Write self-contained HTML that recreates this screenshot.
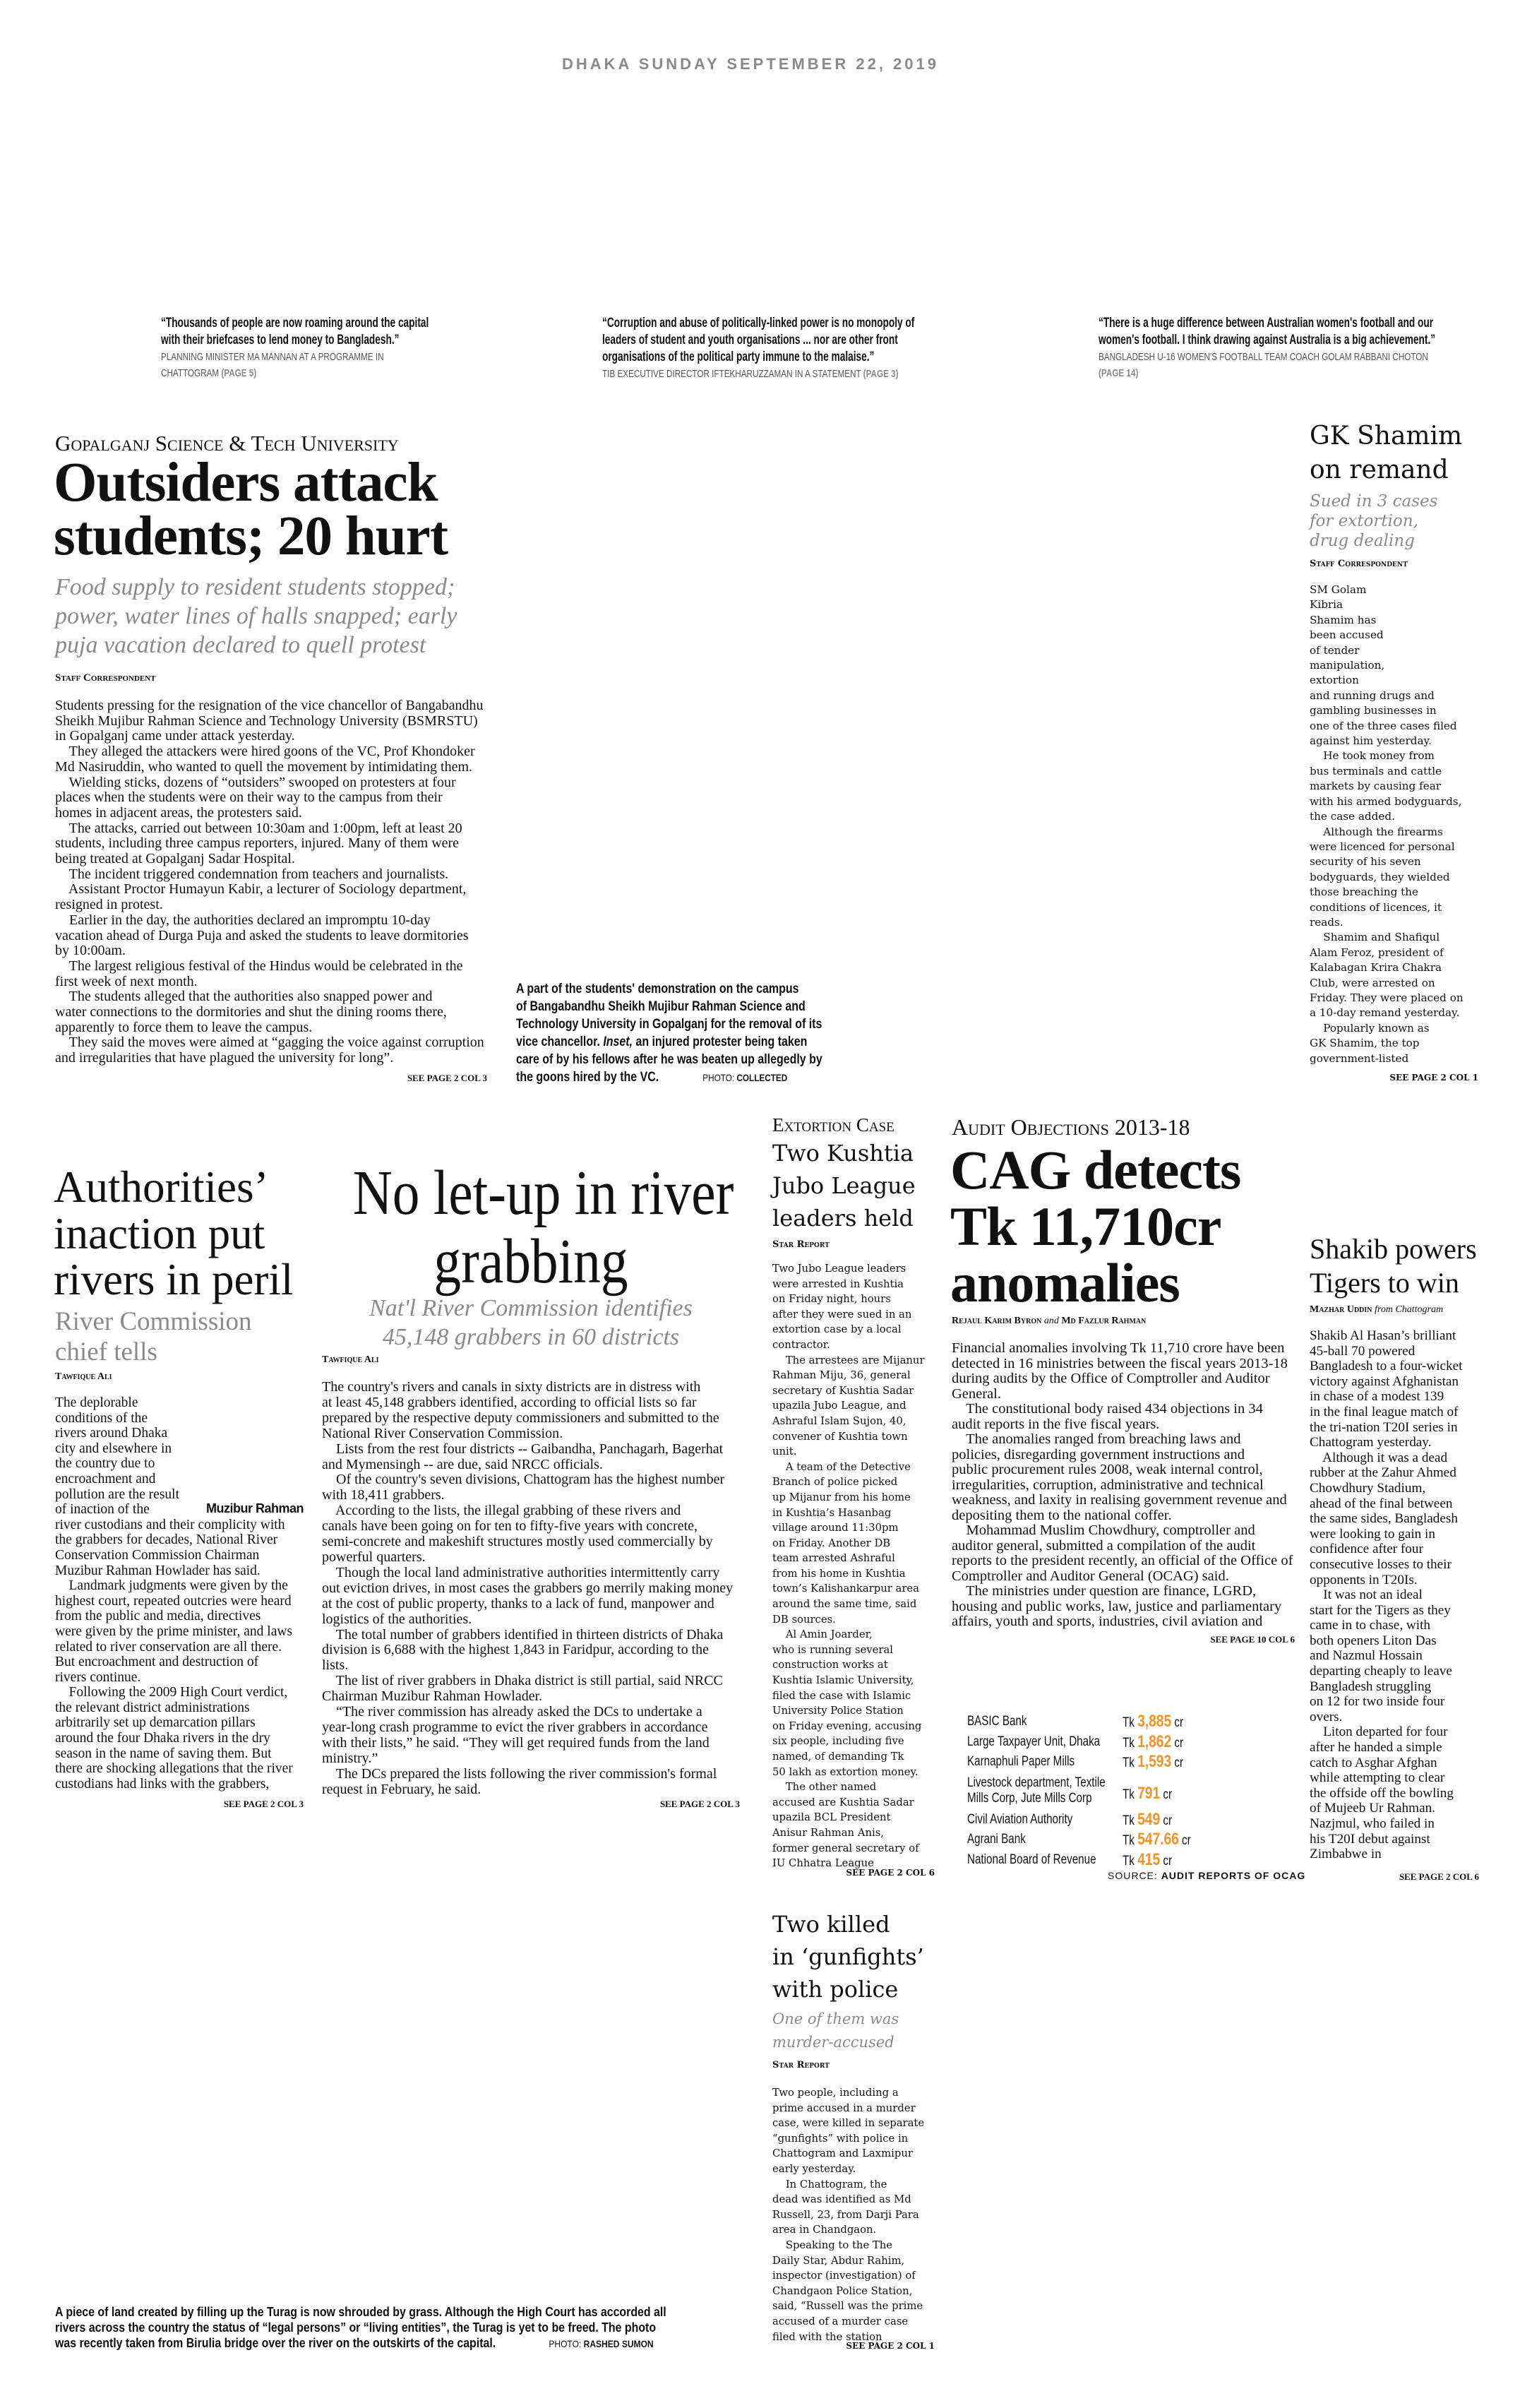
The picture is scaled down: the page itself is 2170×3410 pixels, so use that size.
<!DOCTYPE html>
<html><head><meta charset="utf-8"><style>
html,body{margin:0;padding:0;background:#fff}
body{width:2170px;height:3410px;position:relative;overflow:hidden;color:#111;font-family:"Liberation Serif",serif}
.p{position:absolute;white-space:pre;margin:0}
.c{display:inline-block;transform-origin:0 0;white-space:pre}
.sans{font-family:"Liberation Sans",sans-serif}
.dj{font-family:"DejaVu Serif",serif}
.gray{color:#8a8a8a}
.sc{font-variant:small-caps}
.bl{font-variant:small-caps;font-weight:bold;font-size:15px;line-height:18px}
.body{font-size:20px;line-height:21.7px}
.see{font-size:13px;font-weight:bold;text-align:right;width:300px}
.q{font-family:"Liberation Sans",sans-serif;font-weight:bold;font-size:19px;line-height:24px;transform:scaleX(.72);transform-origin:0 0}
.qa{font-family:"Liberation Sans",sans-serif;font-size:15px;line-height:23px;color:#555;transform:scaleX(.78);transform-origin:0 0}
.or{color:#f39325;font-weight:bold;font-size:24px}
.tr{font-family:"Liberation Sans",sans-serif;font-size:19px;transform:scaleX(.8);transform-origin:0 0}
</style></head><body>

<div class="p sans" style="left:796px;top:78px;font-size:22px;font-weight:bold;letter-spacing:4px;color:#8a8a8a">DHAKA SUNDAY SEPTEMBER 22, 2019</div>

<!-- quotes -->
<div class="p" style="left:228px;top:446px"><div class="q">“Thousands of people are now roaming around the capital
with their briefcases to lend money to Bangladesh.”</div><div class="qa" style="margin-top:-48px;position:relative;top:48px">PLANNING MINISTER MA MANNAN AT A PROGRAMME IN
CHATTOGRAM <b style="color:#888">(PAGE 5)</b></div></div>
<div class="p" style="left:853px;top:446px"><div class="q">“Corruption and abuse of politically-linked power is no monopoly of
leaders of student and youth organisations ... nor are other front
organisations of the political party immune to the malaise.”</div><div class="qa" style="position:relative;top:-72px;margin-top:72px">TIB EXECUTIVE DIRECTOR IFTEKHARUZZAMAN IN A STATEMENT <b style="color:#888">(PAGE 3)</b></div></div>
<div class="p" style="left:1556px;top:446px"><div class="q">“There is a huge difference between Australian women's football and our
women's football. I think drawing against Australia is a big achievement.”</div><div class="qa" style="position:relative;top:-48px;margin-top:48px">BANGLADESH U-16 WOMEN'S FOOTBALL TEAM COACH GOLAM RABBANI CHOTON
<b style="color:#888">(PAGE 14)</b></div></div>

<!-- main story -->
<div class="p sc" style="left:78px;top:610px;font-size:31px;line-height:36px">Gopalganj Science &amp; Tech University</div>
<div class="p" style="left:76px;top:646px;font-size:79px;line-height:76px;font-weight:bold;letter-spacing:-1px">Outsiders attack
students; 20 hurt</div>
<div class="p gray" style="left:78px;top:811px;font-size:34px;line-height:41px;font-style:italic">Food supply to resident students stopped;
power, water lines of halls snapped; early
puja vacation declared to quell protest</div>
<div class="p bl" style="left:78px;top:951px">Staff Correspondent</div>
<div class="p body" style="left:78px;top:989px">Students pressing for the resignation of the vice chancellor of Bangabandhu
Sheikh Mujibur Rahman Science and Technology University (BSMRSTU)
in Gopalganj came under attack yesterday.
    They alleged the attackers were hired goons of the VC, Prof Khondoker
Md Nasiruddin, who wanted to quell the movement by intimidating them.
    Wielding sticks, dozens of “outsiders” swooped on protesters at four
places when the students were on their way to the campus from their
homes in adjacent areas, the protesters said.
    The attacks, carried out between 10:30am and 1:00pm, left at least 20
students, including three campus reporters, injured. Many of them were
being treated at Gopalganj Sadar Hospital.
    The incident triggered condemnation from teachers and journalists.
    Assistant Proctor Humayun Kabir, a lecturer of Sociology department,
resigned in protest.
    Earlier in the day, the authorities declared an impromptu 10-day
vacation ahead of Durga Puja and asked the students to leave dormitories
by 10:00am.
    The largest religious festival of the Hindus would be celebrated in the
first week of next month.
    The students alleged that the authorities also snapped power and
water connections to the dormitories and shut the dining rooms there,
apparently to force them to leave the campus.
    They said the moves were aimed at “gagging the voice against corruption
and irregularities that have plagued the university for long”.</div>
<div class="p see" style="left:390px;top:1519px">SEE PAGE 2 COL 3</div>

<div class="p sans" style="left:731px;top:1388px;font-size:19px;line-height:25px;font-weight:bold"><span class="c" style="transform:scaleX(.84)">A part of the students' demonstration on the campus
of Bangabandhu Sheikh Mujibur Rahman Science and
Technology University in Gopalganj for the removal of its
vice chancellor. <i>Inset,</i> an injured protester being taken
care of by his fellows after he was beaten up allegedly by
the goons hired by the VC.              <span style="font-size:14px;font-weight:normal">PHOTO: </span><span style="font-size:14px">COLLECTED</span></span></div>

<!-- GK Shamim -->
<div class="p dj" style="left:1855px;top:594px;font-size:36px;line-height:48px">GK Shamim
on remand</div>
<div class="p dj gray" style="left:1855px;top:696px;font-size:23px;line-height:28px;font-style:italic">Sued in 3 cases
for extortion,
drug dealing</div>
<div class="p dj sc" style="left:1855px;top:791px;font-size:13px;font-weight:bold">Staff Correspondent</div>
<div class="p dj" style="left:1855px;top:825px;font-size:15.2px;line-height:21.4px">SM Golam
Kibria
Shamim has
been accused
of tender
manipulation,
extortion
and running drugs and
gambling businesses in
one of the three cases filed
against him yesterday.
    He took money from
bus terminals and cattle
markets by causing fear
with his armed bodyguards,
the case added.
    Although the firearms
were licenced for personal
security of his seven
bodyguards, they wielded
those breaching the
conditions of licences, it
reads.
    Shamim and Shafiqul
Alam Feroz, president of
Kalabagan Krira Chakra
Club, were arrested on
Friday. They were placed on
a 10-day remand yesterday.
    Popularly known as
GK Shamim, the top
government-listed</div>
<div class="p see dj" style="left:1794px;top:1519px;font-size:12px">SEE PAGE 2 COL 1</div>

<!-- Authorities -->
<div class="p" style="left:76px;top:1649px;font-size:63px;line-height:65.5px">Authorities’
inaction put
rivers in peril</div>
<div class="p gray" style="left:78px;top:1850px;font-size:37px;line-height:43px">River Commission
chief tells</div>
<div class="p bl" style="left:78px;top:1941px;font-size:14px">Tawfique Ali</div>
<div class="p body" style="left:78px;top:1976px;font-size:19.5px;line-height:21.6px">The deplorable
conditions of the
rivers around Dhaka
city and elsewhere in
the country due to
encroachment and
pollution are the result
of inaction of the
river custodians and their complicity with
the grabbers for decades, National River
Conservation Commission Chairman
Muzibur Rahman Howlader has said.
    Landmark judgments were given by the
highest court, repeated outcries were heard
from the public and media, directives
were given by the prime minister, and laws
related to river conservation are all there.
But encroachment and destruction of
rivers continue.
    Following the 2009 High Court verdict,
the relevant district administrations
arbitrarily set up demarcation pillars
around the four Dhaka rivers in the dry
season in the name of saving them. But
there are shocking allegations that the river
custodians had links with the grabbers,</div>
<div class="p sans" style="left:282px;top:2126px;font-size:18px;font-weight:bold;width:148px;text-align:right;letter-spacing:-.5px">Muzibur Rahman</div>
<div class="p see" style="left:130px;top:2547px">SEE PAGE 2 COL 3</div>

<!-- No let-up -->
<div class="p" style="left:456px;top:1641px;width:592px;text-align:center;font-size:90px;line-height:97px"><span class="c" style="transform:scaleX(.86);transform-origin:50% 0">No let-up in river</span>
<span class="c" style="transform:scaleX(.86);transform-origin:50% 0">grabbing</span></div>
<div class="p gray" style="left:456px;top:1832px;width:592px;text-align:center;font-size:34px;line-height:41px;font-style:italic">Nat'l River Commission identifies
45,148 grabbers in 60 districts</div>
<div class="p bl" style="left:456px;top:1917px;font-size:14px">Tawfique Ali</div>
<div class="p body" style="left:456px;top:1954px;font-size:20px;line-height:21.9px">The country's rivers and canals in sixty districts are in distress with
at least 45,148 grabbers identified, according to official lists so far
prepared by the respective deputy commissioners and submitted to the
National River Conservation Commission.
    Lists from the rest four districts -- Gaibandha, Panchagarh, Bagerhat
and Mymensingh -- are due, said NRCC officials.
    Of the country's seven divisions, Chattogram has the highest number
with 18,411 grabbers.
    According to the lists, the illegal grabbing of these rivers and
canals have been going on for ten to fifty-five years with concrete,
semi-concrete and makeshift structures mostly used commercially by
powerful quarters.
    Though the local land administrative authorities intermittently carry
out eviction drives, in most cases the grabbers go merrily making money
at the cost of public property, thanks to a lack of fund, manpower and
logistics of the authorities.
    The total number of grabbers identified in thirteen districts of Dhaka
division is 6,688 with the highest 1,843 in Faridpur, according to the
lists.
    The list of river grabbers in Dhaka district is still partial, said NRCC
Chairman Muzibur Rahman Howlader.
    “The river commission has already asked the DCs to undertake a
year-long crash programme to evict the river grabbers in accordance
with their lists,” he said. “They will get required funds from the land
ministry.”
    The DCs prepared the lists following the river commission's formal
request in February, he said.</div>
<div class="p see" style="left:748px;top:2547px">SEE PAGE 2 COL 3</div>

<!-- Kushtia -->
<div class="p sc" style="left:1094px;top:1578px;font-size:27px;line-height:30px">Extortion Case</div>
<div class="p dj" style="left:1094px;top:1610px;font-size:32px;line-height:46px">Two Kushtia
Jubo League
leaders held</div>
<div class="p dj sc" style="left:1094px;top:1755px;font-size:13px;font-weight:bold">Star Report</div>
<div class="p dj" style="left:1094px;top:1786px;font-size:14.8px;line-height:21.6px">Two Jubo League leaders
were arrested in Kushtia
on Friday night, hours
after they were sued in an
extortion case by a local
contractor.
    The arrestees are Mijanur
Rahman Miju, 36, general
secretary of Kushtia Sadar
upazila Jubo League, and
Ashraful Islam Sujon, 40,
convener of Kushtia town
unit.
    A team of the Detective
Branch of police picked
up Mijanur from his home
in Kushtia’s Hasanbag
village around 11:30pm
on Friday. Another DB
team arrested Ashraful
from his home in Kushtia
town’s Kalishankarpur area
around the same time, said
DB sources.
    Al Amin Joarder,
who is running several
construction works at
Kushtia Islamic University,
filed the case with Islamic
University Police Station
on Friday evening, accusing
six people, including five
named, of demanding Tk
50 lakh as extortion money.
    The other named
accused are Kushtia Sadar
upazila BCL President
Anisur Rahman Anis,
former general secretary of
IU Chhatra League</div>
<div class="p see dj" style="left:1024px;top:2645px;font-size:12px">SEE PAGE 2 COL 6</div>

<!-- Two killed -->
<div class="p dj" style="left:1094px;top:2702px;font-size:32px;line-height:46px">Two killed
in ‘gunfights’
with police</div>
<div class="p dj gray" style="left:1094px;top:2843px;font-size:21px;line-height:33px;font-style:italic">One of them was
murder-accused</div>
<div class="p dj sc" style="left:1094px;top:2917px;font-size:13px;font-weight:bold">Star Report</div>
<div class="p dj" style="left:1094px;top:2953px;font-size:14.8px;line-height:21.6px">Two people, including a
prime accused in a murder
case, were killed in separate
“gunfights” with police in
Chattogram and Laxmipur
early yesterday.
    In Chattogram, the
dead was identified as Md
Russell, 23, from Darji Para
area in Chandgaon.
    Speaking to the The
Daily Star, Abdur Rahim,
inspector (investigation) of
Chandgaon Police Station,
said, “Russell was the prime
accused of a murder case
filed with the station</div>
<div class="p see dj" style="left:1024px;top:3315px;font-size:12px">SEE PAGE 2 COL 1</div>

<!-- CAG -->
<div class="p sc" style="left:1348px;top:1578px;font-size:32px;line-height:36px">Audit Objections 2013-18</div>
<div class="p" style="left:1346px;top:1617px;font-size:78px;line-height:80px;font-weight:bold;letter-spacing:-1px">CAG detects
Tk 11,710cr
anomalies</div>
<div class="p bl" style="left:1348px;top:1862px;font-size:14px">Rejaul Karim Byron <i style="font-weight:normal;font-variant:normal">and</i> Md Fazlur Rahman</div>
<div class="p" style="left:1348px;top:1899px;font-size:20.5px;line-height:21.5px">Financial anomalies involving Tk 11,710 crore have been
detected in 16 ministries between the fiscal years 2013-18
during audits by the Office of Comptroller and Auditor
General.
    The constitutional body raised 434 objections in 34
audit reports in the five fiscal years.
    The anomalies ranged from breaching laws and
policies, disregarding government instructions and
public procurement rules 2008, weak internal control,
irregularities, corruption, administrative and technical
weakness, and laxity in realising government revenue and
depositing them to the national coffer.
    Mohammad Muslim Chowdhury, comptroller and
auditor general, submitted a compilation of the audit
reports to the president recently, an official of the Office of
Comptroller and Auditor General (OCAG) said.
    The ministries under question are finance, LGRD,
housing and public works, law, justice and parliamentary
affairs, youth and sports, industries, civil aviation and</div>
<div class="p see" style="left:1534px;top:2314px">SEE PAGE 10 COL 6</div>

<!-- table -->
<div class="p tr" style="left:1370px;top:2427px">BASIC Bank</div>
<div class="p tr" style="left:1370px;top:2456px">Large Taxpayer Unit, Dhaka</div>
<div class="p tr" style="left:1370px;top:2484px">Karnaphuli Paper Mills</div>
<div class="p tr" style="left:1370px;top:2514px;line-height:22px">Livestock department, Textile
Mills Corp, Jute Mills Corp</div>
<div class="p tr" style="left:1370px;top:2566px">Civil Aviation Authority</div>
<div class="p tr" style="left:1370px;top:2594px">Agrani Bank</div>
<div class="p tr" style="left:1370px;top:2623px">National Board of Revenue</div>
<div class="p tr" style="left:1590px;top:2424px">Tk <span class="or">3,885</span> cr</div>
<div class="p tr" style="left:1590px;top:2453px">Tk <span class="or">1,862</span> cr</div>
<div class="p tr" style="left:1590px;top:2481px">Tk <span class="or">1,593</span> cr</div>
<div class="p tr" style="left:1590px;top:2526px">Tk <span class="or">791</span> cr</div>
<div class="p tr" style="left:1590px;top:2563px">Tk <span class="or">549</span> cr</div>
<div class="p tr" style="left:1590px;top:2591px">Tk <span class="or">547.66</span> cr</div>
<div class="p tr" style="left:1590px;top:2620px">Tk <span class="or">415</span> cr</div>
<div class="p sans" style="left:1569px;top:2648px;font-size:14px;letter-spacing:1px">SOURCE: <b>AUDIT REPORTS OF OCAG</b></div>

<!-- Shakib -->
<div class="p" style="left:1855px;top:1745px;font-size:40px;line-height:48px">Shakib powers
Tigers to win</div>
<div class="p bl" style="left:1855px;top:1846px;font-size:14px">Mazhar Uddin <i style="font-weight:normal;font-variant:normal">from Chattogram</i></div>
<div class="p" style="left:1855px;top:1881px;font-size:19.2px;line-height:21.6px">Shakib Al Hasan’s brilliant
45-ball 70 powered
Bangladesh to a four-wicket
victory against Afghanistan
in chase of a modest 139
in the final league match of
the tri-nation T20I series in
Chattogram yesterday.
    Although it was a dead
rubber at the Zahur Ahmed
Chowdhury Stadium,
ahead of the final between
the same sides, Bangladesh
were looking to gain in
confidence after four
consecutive losses to their
opponents in T20Is.
    It was not an ideal
start for the Tigers as they
came in to chase, with
both openers Liton Das
and Nazmul Hossain
departing cheaply to leave
Bangladesh struggling
on 12 for two inside four
overs.
    Liton departed for four
after he handed a simple
catch to Asghar Afghan
while attempting to clear
the offside off the bowling
of Mujeeb Ur Rahman.
Nazjmul, who failed in
his T20I debut against
Zimbabwe in</div>
<div class="p see" style="left:1795px;top:2650px">SEE PAGE 2 COL 6</div>

<!-- bottom caption -->
<div class="p sans" style="left:78px;top:3263px;font-size:18.5px;line-height:22px;font-weight:bold"><span class="c" style="transform:scaleX(.86)">A piece of land created by filling up the Turag is now shrouded by grass. Although the High Court has accorded all
rivers across the country the status of “legal persons” or “living entities”, the Turag is yet to be freed. The photo
was recently taken from Birulia bridge over the river on the outskirts of the capital.                 <span style="font-size:14px;font-weight:normal">PHOTO: </span><span style="font-size:14px">RASHED SUMON</span></span></div>

</body></html>
